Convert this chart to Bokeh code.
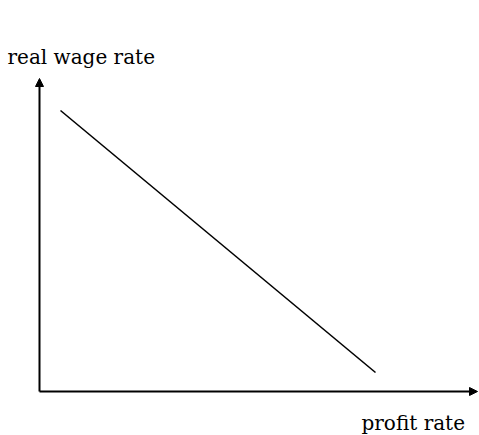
from bokeh.plotting import figure
from bokeh.models import Range1d, Arrow, NormalHead, ColumnDataSource
from bokeh.core.properties import value
from bokeh.embed import file_html
from bokeh.resources import INLINE

# data (abstract units)
profit_rate = [0.21, 3.36]
real_wage = [2.81, 0.19]
axis_x_max = 4.38
axis_y_max = 3.13
label_texts = ["real wage rate", "profit rate"]
label_x = [-0.32, 3.22]
label_y = [3.35, -0.31]

p = figure(width=479, height=435, output_backend="svg", toolbar_location=None,
           x_range=Range1d(-0.39, 4.40), y_range=Range1d(-0.44, 3.91),
           min_border=0, outline_line_color=None)
p.axis.visible = False
p.grid.visible = False
p.background_fill_color = "white"
p.border_fill_color = "white"

# axes with arrows
p.add_layout(Arrow(x_start=0, y_start=0, x_end=0, y_end=axis_y_max,
                   line_width=2, line_color="black",
                   end=NormalHead(size=8, fill_color="black", line_color="black", line_width=1)))
p.add_layout(Arrow(x_start=0, y_start=0, x_end=axis_x_max, y_end=0,
                   line_width=2, line_color="black",
                   end=NormalHead(size=8, fill_color="black", line_color="black", line_width=1)))

# wage-profit line
p.line(profit_rate, real_wage, line_color="black", line_width=1.6)

src = ColumnDataSource(dict(x=label_x, y=label_y, t=label_texts))
p.text(x="x", y="y", text="t", source=src, text_font=value("DejaVu Serif"),
       text_font_size="20px", text_baseline="alphabetic", text_align="left",
       text_color="black")

open("out.html", "w").write(file_html(p, INLINE))
